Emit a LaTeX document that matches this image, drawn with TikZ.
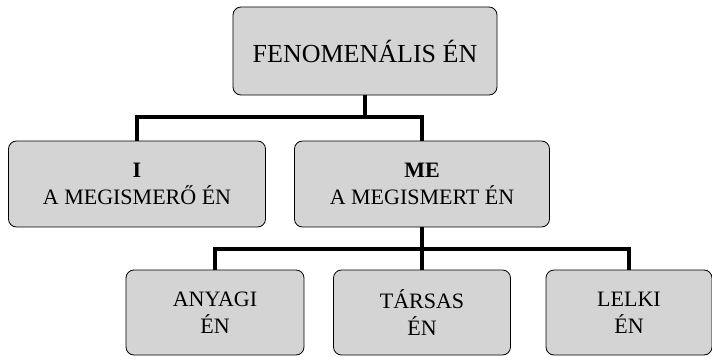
\documentclass[tikz,border=0pt]{standalone}
\usepackage{fontspec}
\setmainfont{Liberation Serif}
\definecolor{boxgray}{RGB}{212,212,212}
\begin{document}
\begin{tikzpicture}[
    grow=down,
    level 1/.style={level distance=133pt, sibling distance=285pt},
    level 2/.style={level distance=128.5pt, sibling distance=207pt},
    edge from parent/.style={draw, line width=4pt},
    edge from parent path={(\tikzparentnode.south) -- ++(0,-22pt) -| (\tikzchildnode.north)},
    every node/.style={draw=black, line width=0.8pt, fill=boxgray, rounded corners=8pt,
      align=center, font=\fontsize{22}{27}\selectfont, minimum height=86pt}
    ]

    \useasboundingbox (-365pt,51pt) rectangle (347pt,-305pt);

    \node (fenom) [minimum width=264pt, minimum height=88pt, font=\fontsize{26}{30}\selectfont] {FENOMENÁLIS ÉN}
    child[xshift=-85.5pt] { node (iego) [minimum width=257pt] {\textbf{I}\\A MEGISMERŐ ÉN} }
    child[xshift=-85.5pt] { node (meego) [minimum width=255pt] {\textbf{ME}\\A MEGISMERT ÉN}
      child { node (anyagi) [minimum width=178pt, minimum height=85pt] {ANYAGI\\ÉN} }
      child { node (tarsas) [minimum width=177pt, minimum height=85pt] {TÁRSAS\\ÉN} }
      child { node (lelki) [minimum width=166pt, minimum height=85pt] {LELKI\\ÉN} }
    };

\end{tikzpicture}
\end{document}
